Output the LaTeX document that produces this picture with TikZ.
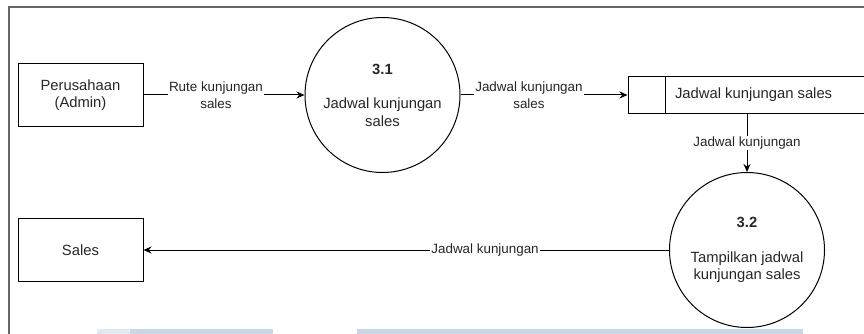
\documentclass[tikz,border=0pt]{standalone}
\usepackage{fontspec}
\setmainfont{Liberation Sans}
\usetikzlibrary{arrows.meta}
\definecolor{strip}{RGB}{201,214,227}
\definecolor{striplight}{RGB}{226,233,240}

\begin{document}
\begin{tikzpicture}[x=1pt,y=-1pt,node distance=302pt,
        >={Stealth[length=8pt,width=7pt]},
        every node/.style={text=black!85},
        ent/.style={draw,line width=1pt,minimum width=125pt,minimum height=63pt,inner sep=0pt,align=center,font=\fontsize{14.8}{17.5}\selectfont},
        proc/.style={draw,circle,line width=1pt,minimum size=155pt,inner sep=0pt,align=center,font=\fontsize{14.8}{17.5}\selectfont},
        lbl/.style={fill=white,inner sep=1pt,align=center,font=\fontsize{13.4}{17.5}\selectfont},
        flow/.style={->,line width=1pt}]
        \useasboundingbox (0,0) rectangle (864,334);
        % strips along the bottom edge
        \fill[strip] (97,329) rectangle (273,334);
        \fill[striplight] (97,329) rectangle (130,334);
        \fill[strip] (357,329) rectangle (803,334);
        % frame
        \draw[black!60,line width=1.6pt] (9,334) -- (9,7) -- (864,7);

        \node[ent](A) at (80.5,95) {Perusahaan\\(Admin)};
        \node[proc](B) [right of=A] {\textbf{3.1}\\[17pt]Jadwal kunjungan\\sales};
        \node[ent,minimum width=238pt,minimum height=37pt](C) [right of=B,node distance=364.5pt] {};
        \draw[line width=1pt] ([xshift=38pt]C.north west) -- ([xshift=38pt]C.south west);
        \node[anchor=west,font=\fontsize{14.8}{17.5}\selectfont](Ct) at ([xshift=44pt]C.west) {Jadwal kunjungan sales};
        \node[proc](D) [below of=C,node distance=155pt] {\textbf{3.2}\\[17pt]Tampilkan jadwal\\kunjungan sales};
        \node[ent](E) [left of=D,node distance=666.5pt] {Sales};

        \draw[flow](A) to node[lbl,pos=0.45]{Rute kunjungan\\sales}(B);
        \draw[flow](B) to node[lbl,pos=0.41]{Jadwal kunjungan\\sales}(C);
        \draw[flow](C) to node[lbl]{Jadwal kunjungan}(D);
        \draw[flow](D) to node[lbl,pos=0.35]{Jadwal kunjungan}(E);
    \end{tikzpicture}
\end{document}
